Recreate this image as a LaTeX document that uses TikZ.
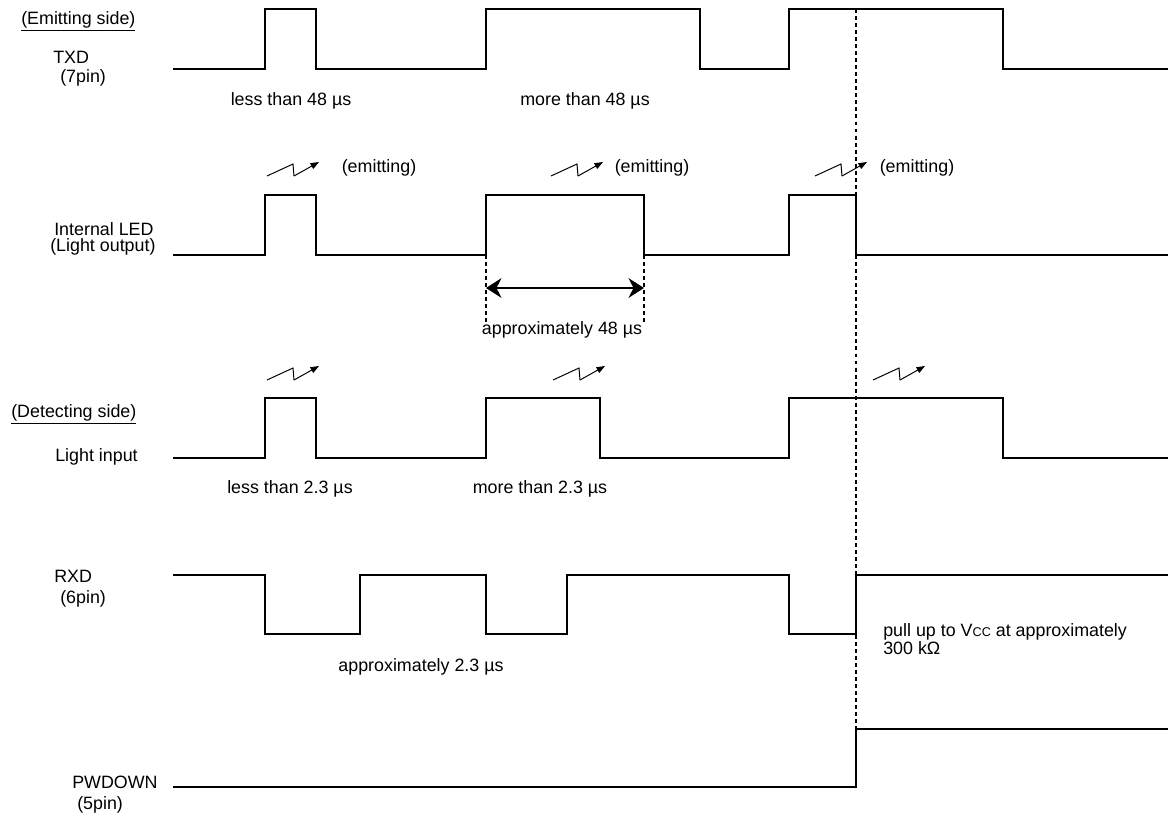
\documentclass[tikz,border=0pt]{standalone}
\usepackage{fontspec}
\setmainfont{Liberation Sans}
\usetikzlibrary{arrows.meta}

\begin{document}
\begin{tikzpicture}[
    x=0.025cm, y=-0.025cm,
    >=Stealth,
    every node/.style={font=\fontsize{12.7}{12}\selectfont, inner sep=0pt},
    % signal waveform
    wave/.style={line width=1.4pt, line join=miter},
    % dashed guide line
    guide/.style={line width=1.4pt, dash pattern=on 2.8pt off 2.2pt},
    % width arrow
    dim/.style={{Stealth[length=11pt,width=14pt]}-{Stealth[length=11pt,width=14pt]}, line width=1.4pt},
    % light symbol
    ray/.style={line width=0.7pt},
    % signal names on the left
    sig/.style={anchor=west},
    % timing notes
    note/.style={anchor=center},
]
\useasboundingbox (0,0) rectangle (1169,817);

%% ── signal names ──────────────────────────────────────
\node[sig] (emit)  at (21, 21)  {\underline{(Emitting side)}};
\node[sig] (txd)   at (53, 57)  {TXD};
\node[sig] (txdp)  at (60, 78)  {(7pin)};
\node[sig] (led)   at (54, 229) {Internal LED};
\node[sig] (ledp)  at (50, 247) {(Light output)};
\node[sig] (det)   at (11, 414) {\underline{(Detecting side)}};
\node[sig] (lin)   at (55, 457) {Light input};
\node[sig] (rxd)   at (54, 576) {RXD};
\node[sig] (rxdp)  at (60, 599) {(6pin)};
\node[sig] (pwd)   at (72, 782) {PWDOWN};
\node[sig] (pwdp)  at (77, 805) {(5pin)};

%% ── waveforms ─────────────────────────────────────────
% TXD: low 69, high 9
\draw[wave] (173,69) -| (265,9) -| (316,69) -| (486,9) -| (700,69) -| (789,9) -| (1003,69) -- (1168,69);
% Internal LED: low 255, high 195
\draw[wave] (173,255) -| (265,195) -| (316,255) -| (486,195) -| (644,255) -| (789,195) -| (856,255) -- (1168,255);
% Light input: low 458, high 398
\draw[wave] (173,458) -| (265,398) -| (316,458) -| (486,398) -| (600,458) -| (789,398) -| (1003,458) -- (1168,458);
% RXD: high 575, low 634
\draw[wave] (173,575) -| (265,634) -| (360,575) -| (486,634) -| (567,575) -| (789,634) -| (856,575) -- (1168,575);
% PWDOWN: low 787, high 729
\draw[wave] (173,787) -| (856,729) -- (1168,729);

%% ── light symbols ─────────────────────────────────────
\foreach \sx/\sy in {267/176, 551/176, 815/176, 267/380, 553/380, 873/380}{
    \draw[ray] (\sx,\sy) -- ++(26,-12) -- ++(1,12);
    \draw[ray, -{Triangle[length=6pt,width=4.5pt]}] (\sx+27,\sy) -- ++(25,-14);
}

%% ── timing notes ──────────────────────────────────────
\node[note] (n1) at (291, 101) {less than 48 µs};
\node[note] (n2) at (585, 101) {more than 48 µs};
\node[note] (e1) at (379, 168) {(emitting)};
\node[note] (e2) at (652, 168) {(emitting)};
\node[note] (e3) at (917, 168) {(emitting)};
\node[note] (n3) at (562, 330) {approximately 48 µs};
\node[note] (n4) at (290, 489) {less than 2.3 µs};
\node[note] (n5) at (540, 489) {more than 2.3 µs};
\node[note] (n6) at (421, 667) {approximately 2.3 µs};
\node[anchor=north west, align=left, font=\fontsize{12.7}{11}\selectfont] (pull) at (883, 623)
    {pull up to V{\fontsize{9}{9}\selectfont CC} at approximately\\300 kΩ};

%% ── guides and width arrow ────────────────────────────
\coordinate (vtop) at (856,9);
\coordinate (vbot) at (856,729);
\draw[guide] (vtop) -- (vbot);

\coordinate (g1t) at (486,255);
\coordinate (g1b) at (486,322);
\coordinate (g2t) at (644,255);
\coordinate (g2b) at (644,322);
\draw[guide] (g1t) -- (g1b);
\draw[guide] (g2t) -- (g2b);

\coordinate (a1) at (486,288);
\coordinate (a2) at (644,288);
\draw[dim] (a1) -- (a2);

\end{tikzpicture}
\end{document}
